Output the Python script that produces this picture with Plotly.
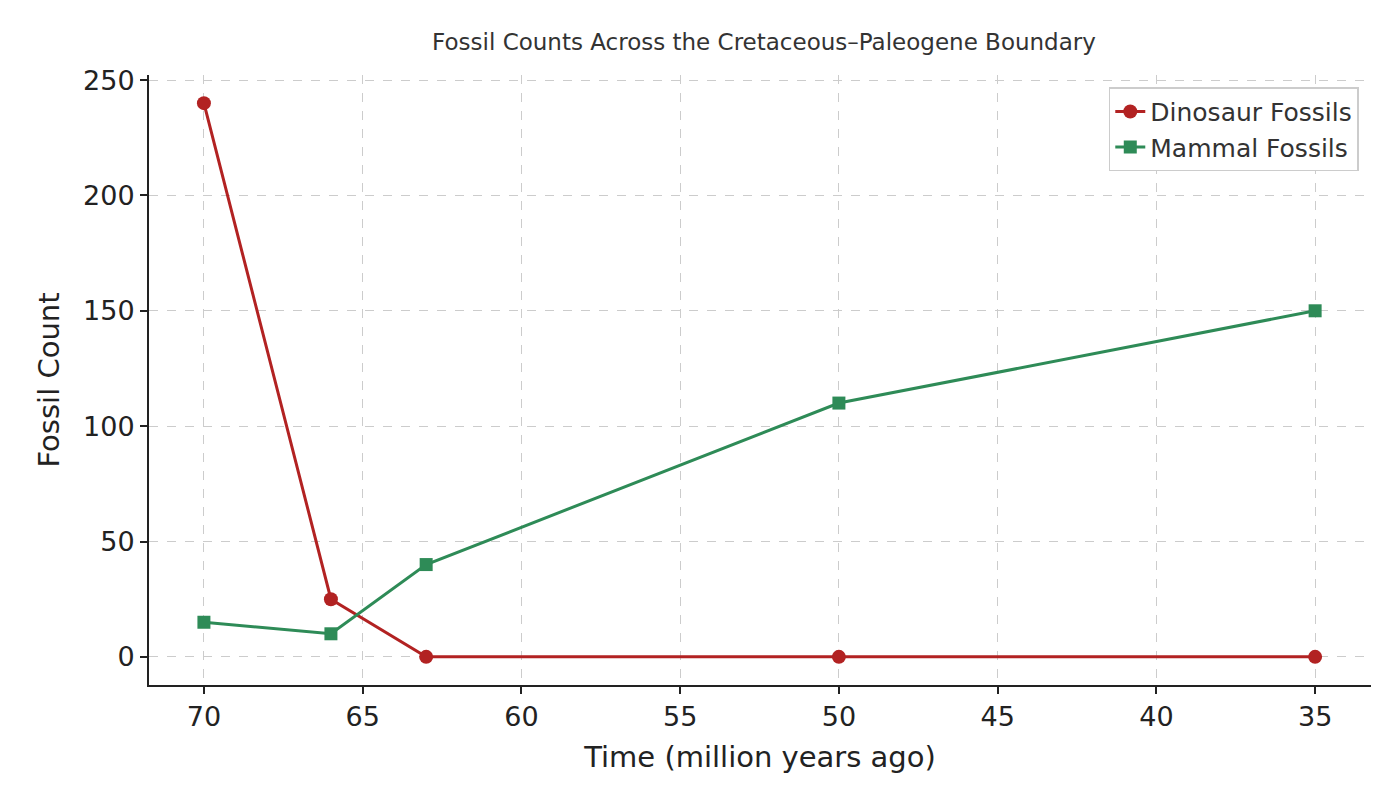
import plotly.graph_objects as go

time_mya = [70, 66, 63, 50, 35]
dinosaur = [240, 25, 0, 0, 0]
mammal = [15, 10, 40, 110, 150]

font = "DejaVu Sans"

fig = go.Figure()
fig.add_trace(go.Scatter(
    x=time_mya, y=dinosaur, mode="lines+markers", name="Dinosaur Fossils",
    line=dict(color="#b22222", width=3),
    marker=dict(symbol="circle", size=14, color="#b22222")
))
fig.add_trace(go.Scatter(
    x=time_mya, y=mammal, mode="lines+markers", name="Mammal Fossils",
    line=dict(color="#2e8b57", width=3),
    marker=dict(symbol="square", size=13, color="#2e8b57")
))

axis_style = dict(
    showline=True, linecolor="#222", linewidth=2,
    ticks="outside", ticklen=7, tickwidth=1.5, tickcolor="#222",
    showgrid=True, gridcolor="#cccccc", griddash="dash", gridwidth=1,
    zeroline=False, tickfont=dict(size=27, color="#222"),
    title_font=dict(size=29, color="#222"),
)

fig.update_layout(
    width=1400, height=800,
    paper_bgcolor="white", plot_bgcolor="white",
    font=dict(family=font),
    margin=dict(l=141, r=37, t=67, b=123),
    title=dict(text="Fossil Counts Across the Cretaceous–Paleogene Boundary",
               x=0.54, xanchor="center", y=0.957, yanchor="middle",
               font=dict(size=23, color="#333")),
    xaxis=dict(axis_style, title_text="Time (million years ago)",
               range=[71.73, 33.24], tickvals=[70, 65, 60, 55, 50, 45, 40, 35]),
    yaxis=dict(axis_style, title_text="Fossil Count",
               range=[-12.2, 252.2], tickvals=[0, 50, 100, 150, 200, 250]),
    legend=dict(x=0.99, y=0.98, xanchor="right", yanchor="top",
                bgcolor="white", bordercolor="#cccccc", borderwidth=1.5,
                font=dict(size=25, color="#333")),
)

fig.write_html("out.html")
